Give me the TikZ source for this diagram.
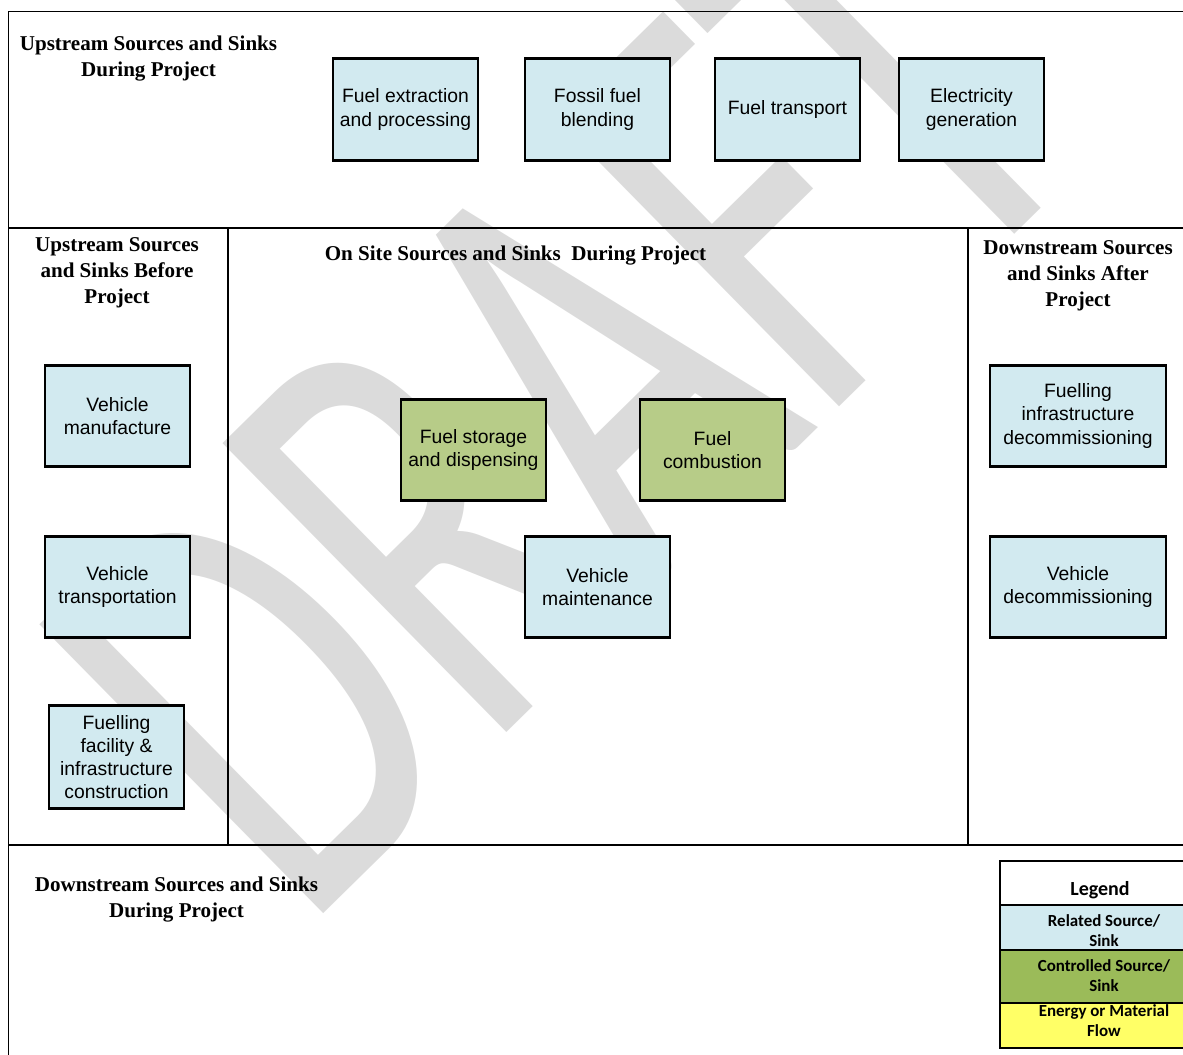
\documentclass[tikz,border=0pt]{standalone}
\usepackage{fontspec}
\setmainfont{Liberation Serif}
\newfontfamily\arialf{Liberation Sans}
\newfontfamily\calibrif{Carlito}
\definecolor{relblue}{RGB}{210,234,240}
\definecolor{ctrlgreen}{RGB}{183,204,136}
\definecolor{leggreen}{RGB}{155,187,89}
\definecolor{flowyellow}{RGB}{255,255,102}
\definecolor{wmgray}{RGB}{219,219,219}
\tikzset{
  frameline/.style={line width=1.1pt, black},
  heading/.style={font=\bfseries\fontsize{15.8}{19.4}\selectfont, align=center, inner sep=0pt},
  srcbox/.style={draw=black, line width=2.2pt, fill=relblue, align=center, inner sep=0pt,
    font=\arialf\fontsize{14.5}{17.3}\selectfont, minimum width=108.75pt, minimum height=76pt},
  ctrlbox/.style={srcbox, fill=ctrlgreen},
  legcell/.style={draw=black, line width=2pt},
  legtext/.style={font=\calibrif\bfseries\fontsize{12.7}{15}\selectfont, align=center, inner sep=0pt},
  watermark/.style={text=wmgray, inner sep=0pt, font=\calibrif\fontsize{50}{50}\selectfont}
}
\begin{document}
\begin{tikzpicture}[x=0.75pt, y=-0.75pt]
\path[use as bounding box] (0,0) rectangle (1183,1055);
\begin{scope}
\clip (0,0) rectangle (1183,1055);
% watermark
\node[watermark, rotate=44.5, xscale=6.25, yscale=9.47] (draft) at (560,397) {DRAFT};
% frame
\draw[frameline] (1190,11.5) -- (8.5,11.5) -- (8.5,1060);
\draw[frameline] (8.5,228) -- (1190,228);
\draw[frameline] (8.5,845) -- (1190,845);
\draw[frameline] (228,228) -- (228,845);
\draw[frameline] (968,228) -- (968,845);
% headings
\node[heading] (hUp) at (148.5,58.5) {Upstream Sources and Sinks\\During Project};
\node[heading] (hBefore) at (117,273) {Upstream Sources\\and Sinks Before\\Project};
\node[heading] (hOnsite) at (515.5,255.5) {On Site Sources and Sinks\ \ During Project};
\node[heading] (hAfter) at (1078,276) {Downstream Sources\\and Sinks After\\Project};
\node[heading] (hDown) at (176.5,899.5) {Downstream Sources and Sinks\\During Project};
% top row
\node[srcbox] (extract) at (405.5,109.5) {Fuel extraction\\and processing};
\node[srcbox] (blend) at (597.5,109.5) {Fossil fuel\\blending};
\node[srcbox] (transport) at (787.5,109.5) {Fuel transport};
\node[srcbox] (elec) at (971.5,109.5) {Electricity\\generation};
% left column
\node[srcbox] (vmanuf) at (117.5,416) {Vehicle\\manufacture};
\node[srcbox] (vtrans) at (117.5,587) {Vehicle\\transportation};
\node[srcbox, minimum width=101.25pt, minimum height=77pt] (facility) at (116.5,757) {Fuelling\\facility \&\\infrastructure\\construction};
% centre
\node[ctrlbox] (storage) at (473.5,450) {Fuel storage\\and dispensing};
\node[ctrlbox] (combust) at (712.5,450) {Fuel\\combustion};
\node[srcbox] (vmaint) at (597.5,587) {Vehicle\\maintenance};
% right column
\node[srcbox, minimum width=132pt] (infdecom) at (1078,416) {Fuelling\\infrastructure\\decommissioning};
\node[srcbox, minimum width=132pt] (vdecom) at (1078,587) {Vehicle\\decommissioning};
% legend
\draw[legcell, fill=white] (1000,861) rectangle (1208,905);
\draw[legcell, fill=relblue] (1000,905) rectangle (1208,950);
\draw[legcell, fill=leggreen] (1000,950) rectangle (1208,1003);
\draw[legcell, fill=flowyellow] (1000,1003) rectangle (1208,1048);
\node[legtext, font=\calibrif\bfseries\fontsize{15}{18}\selectfont] (legT) at (1100,890) {Legend};
\node[legtext] (legRel) at (1104,931) {Related Source/\\Sink};
\node[legtext] (legCtrl) at (1104,976) {Controlled Source/\\Sink};
\node[legtext] (legFlow) at (1104,1021) {Energy or Material\\Flow};
\end{scope}
\end{tikzpicture}
\end{document}
